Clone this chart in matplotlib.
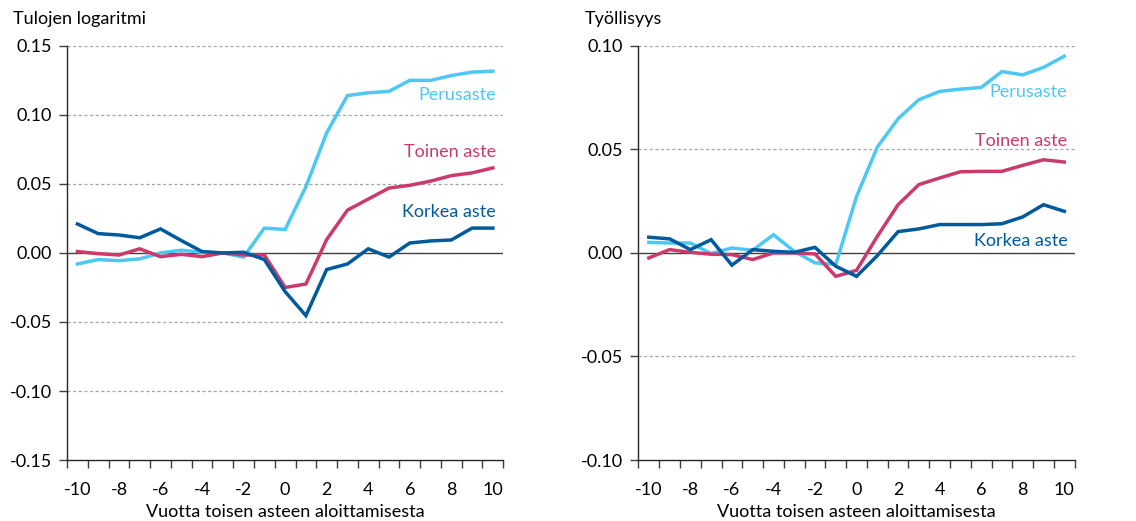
import matplotlib
matplotlib.use("Agg")
import matplotlib.pyplot as plt
import numpy as np

plt.rcParams["font.family"] = ["Lato", "DejaVu Sans"]

years = list(range(-10, 11))

# Tulojen logaritmi
inc_perus = [-0.008, -0.0048, -0.0056, -0.0043, 0.000, 0.002, 0.0005, 0.000, -0.003, 0.018, 0.017,
             0.048, 0.087, 0.114, 0.116, 0.117, 0.125, 0.125, 0.1285, 0.131, 0.1317]
inc_toinen = [0.001, -0.0005, -0.0015, 0.003, -0.0027, -0.001, -0.0027, 0.000, -0.0015, -0.0015, -0.025,
              -0.0225, 0.0097, 0.031, 0.039, 0.047, 0.049, 0.052, 0.056, 0.058, 0.0616]
inc_korkea = [0.021, 0.014, 0.013, 0.011, 0.0174, 0.009, 0.001, 0.000, 0.0005, -0.0048, -0.028,
              -0.0454, -0.012, -0.008, 0.003, -0.003, 0.0072, 0.0087, 0.0094, 0.018, 0.018]

# Työllisyys
emp_perus = [0.0051, 0.0048, 0.0048, -0.0003, 0.0024, 0.0013, 0.0088, 0.0008, -0.0048, -0.0056, 0.0273,
             0.0511, 0.0648, 0.074, 0.078, 0.0791, 0.0799, 0.0876, 0.086, 0.0896, 0.095]
emp_toinen = [-0.0024, 0.0016, 0.0003, -0.0006, -0.0008, -0.0032, 0.000, 0.000, -0.0005, -0.0113, -0.0084,
              0.008, 0.0233, 0.033, 0.0362, 0.0392, 0.0394, 0.0394, 0.0423, 0.045, 0.0439]
emp_korkea = [0.0076, 0.0068, 0.0016, 0.0064, -0.0059, 0.0016, 0.0008, 0.0003, 0.0027, -0.0064, -0.0113,
              -0.0013, 0.0103, 0.0116, 0.0137, 0.0137, 0.0137, 0.0141, 0.0174, 0.0233, 0.0201]

names = ["Perusaste", "Toinen aste", "Korkea aste"]
colors = ["#4DC8F5", "#CC3A6B", "#005A9C"]

inc_label_y = [0.1145, 0.0732, 0.0297]
emp_label_y = [0.0778, 0.0541, 0.0058]

xtick_vals = list(range(-10, 11, 2))

fig = plt.figure(figsize=(11.36, 5.21), dpi=100)
ax1 = fig.add_axes([0.059, 0.117, 0.384, 0.795])
ax2 = fig.add_axes([0.562, 0.117, 0.384, 0.795])


def style_panel(ax, series, label_y, ylim, yticks, title):
    for s, name, c, ly in zip(series, names, colors, label_y):
        ax.plot(years, s, color=c, lw=2.5, solid_joinstyle="miter")
        ax.text(10.15, ly, name, color=c, fontsize=13, ha="right", va="center")
    ax.set_xlim(-10.5, 10.5)
    ax.set_ylim(*ylim)
    ax.set_yticks(yticks)
    ax.set_yticklabels([f"{v:.2f}" for v in yticks], fontsize=13)
    for v in yticks:
        if abs(v) > 1e-9 and v != ylim[0]:
            ax.axhline(v, color="#A6A6A6", lw=0.9, ls=(0, (2.5, 2)), zorder=0)
    ax.axhline(0, color="#404040", lw=1.0, zorder=0.5)
    ax.set_xticks(xtick_vals)
    ax.set_xticklabels([str(v) for v in xtick_vals], fontsize=13)
    ax.set_xticks(np.arange(-10.5, 11.0, 1.0), minor=True)
    ax.tick_params(axis="x", which="major", length=0, pad=16)
    ax.tick_params(axis="x", which="minor", length=6, width=1, direction="out", color="#404040")
    ax.tick_params(axis="y", length=6, width=1, direction="out", color="#404040", pad=5)
    for sp in ["top", "right"]:
        ax.spines[sp].set_visible(False)
    for sp in ["left", "bottom"]:
        ax.spines[sp].set_color("#262626")
        ax.spines[sp].set_linewidth(1.0)
    ax.set_xlabel("Vuotta toisen asteen aloittamisesta", fontsize=13, labelpad=4)
    ax.text(-0.124, 1.065, title, transform=ax.transAxes,
            fontsize=13, ha="left", va="center")


style_panel(ax1, [inc_perus, inc_toinen, inc_korkea], inc_label_y,
            (-0.15, 0.15), [-0.15, -0.10, -0.05, 0.0, 0.05, 0.10, 0.15], "Tulojen logaritmi")
style_panel(ax2, [emp_perus, emp_toinen, emp_korkea], emp_label_y,
            (-0.10, 0.10), [-0.10, -0.05, 0.0, 0.05, 0.10], "Työllisyys")

fig.savefig("out.png", dpi=100)
